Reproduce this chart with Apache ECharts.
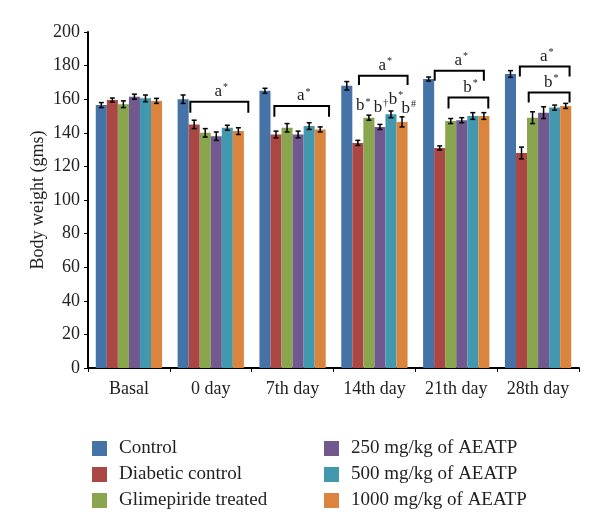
<!DOCTYPE html>
<html>
<head>
<meta charset="utf-8">
<script src="https://cdn.jsdelivr.net/npm/echarts@6/dist/echarts.min.js"></script>
<style>
  html, body { margin: 0; padding: 0; background: #fff; }
  #chart { width: 600px; height: 531px; }
</style>
</head>
<body>
<div id="chart"></div>
<script>
// categories and groups
const days = ['Basal', '0 day', '7th day', '14th day', '21th day', '28th day']
const groups = ['Control', 'Diabetic control', 'Glimepiride treated',
  '250 mg/kg of AEATP', '500 mg/kg of AEATP', '1000 mg/kg of AEATP']
const colors = ['#4572A7', '#AA4643', '#89A54E', '#71588F', '#4198AF', '#DB843D']

// mean body weight (gms), one array per group
const control = [156.5, 160, 165, 168, 172, 175]
const diabetic = [159.5, 145, 139, 134, 131, 128]
const glimepiride = [157, 140, 143, 149, 147, 149]
const aeatp250 = [161.5, 138, 139, 143.5, 147.5, 152]
const aeatp500 = [160.5, 143, 144, 151, 150, 155]
const aeatp1000 = [159, 141, 142, 146.5, 150, 156]

// standard errors, one array per group
const errControl = [1.5, 2.5, 1.5, 2.5, 1.2, 2]
const errDiabetic = [1.2, 2.5, 2, 1.5, 1.2, 3.5]
const errGlimepiride = [2, 2.5, 2.5, 1.5, 1.5, 3.5]
const errAeatp250 = [1.5, 2.5, 2, 1.5, 1.5, 3.5]
const errAeatp500 = [2, 1.5, 2, 2, 2, 1.5]
const errAeatp1000 = [1.5, 2, 1.5, 3, 2, 1.5]

// significance brackets: [day, from slot, to slot, top value, bottom value, letter]
const brackets = [
  [1, 1.15, 6.4, 158.5, 152, 'a'],
  [2, 1.35, 6.3, 156, 149.5, 'a'],
  [3, 1.6, 6.0, 174, 168.5, 'a'],
  [4, 1.05, 5.5, 177, 171, 'a'],
  [4, 2.3, 5.9, 161, 154.5, 'b'],
  [5, 1.35, 5.85, 179.5, 173.5, 'a'],
  [5, 2.15, 5.85, 164, 158, 'b']
]
// marks over single bars: [day, slot, value, letter, symbol]
const marks = [
  [3, 2.0, 156, 'b', '*'],
  [3, 3.6, 155, 'b', '†'],
  [3, 4.95, 160, 'b', '*'],
  [3, 6.1, 154.5, 'b', '#']
]

const means = [control, diabetic, glimepiride, aeatp250, aeatp500, aeatp1000]
const errs = [errControl, errDiabetic, errGlimepiride, errAeatp250, errAeatp500, errAeatp1000]

const FONT = 'Liberation Serif'
const CAT_GAP = 0.19

function groupGeom(api, cat) {
  const center = api.coord([cat, 0])[0]
  const band = api.size([1, 0])[0]
  const groupW = band * (1 - CAT_GAP)
  return { left: center - groupW / 2, barW: groupW / groups.length }
}

const rich = {
  m: { fontFamily: FONT, fontSize: 17, fill: '#222' },
  s: { fontFamily: FONT, fontSize: 10, fill: '#222', verticalAlign: 'top', padding: [0, 0, 8, 1] }
}

const errData = []
means.forEach((arr, g) => {
  arr.forEach((v, d) => {
    errData.push([d, g, v - errs[g][d], v + errs[g][d]])
  })
})

const chart = echarts.init(document.getElementById('chart'))

const barSeries = groups.map((name, i) => ({
  name: name,
  type: 'bar',
  data: means[i],
  barGap: '0%',
  barCategoryGap: (CAT_GAP * 100) + '%',
  itemStyle: { color: colors[i] }
}))

const legendBase = {
  orient: 'vertical',
  top: 434,
  itemWidth: 15, itemHeight: 15, itemGap: 7,
  icon: 'rect',
  textStyle: { fontFamily: FONT, fontSize: 19, color: '#222', padding: [0, 0, 0, 7] }
}

chart.setOption({
  animation: false,
  textStyle: { fontFamily: FONT },
  grid: { left: 88, right: 21, top: 32, bottom: 163 },
  legend: [
    Object.assign({}, legendBase, { data: groups.slice(0, 3), left: 87 }),
    Object.assign({}, legendBase, { data: groups.slice(3), left: 319 })
  ],
  xAxis: {
    type: 'category',
    data: days,
    axisLine: { lineStyle: { color: '#000', width: 2 } },
    axisTick: { show: true, length: 4, lineStyle: { color: '#000' } },
    axisLabel: { fontFamily: FONT, fontSize: 18, color: '#222', margin: 12 }
  },
  yAxis: {
    type: 'value',
    min: 0, max: 200, interval: 20,
    name: 'Body weight (gms)',
    nameLocation: 'middle',
    nameGap: 41,
    nameMoveOverlap: false,
    nameTextStyle: { fontFamily: FONT, fontSize: 18, color: '#222' },
    splitLine: { show: false },
    axisLine: { show: true, lineStyle: { color: '#000', width: 2 } },
    axisTick: { show: true, length: 4, lineStyle: { color: '#000' } },
    axisLabel: { fontFamily: FONT, fontSize: 18, color: '#222', margin: 8 }
  },
  series: barSeries.concat([
    {
      type: 'custom',
      name: 'errors',
      z: 5,
      data: errData,
      encode: { x: 0, y: [2, 3] },
      renderItem(params, api) {
        const cat = api.value(0)
        const g = api.value(1)
        const geo = groupGeom(api, cat)
        const x = geo.left + (g + 0.5) * geo.barW
        const lo = api.coord([cat, api.value(2)])[1]
        const hi = api.coord([cat, api.value(3)])[1]
        const c = 2.5
        const st = { stroke: '#000', lineWidth: 1.5 }
        return {
          type: 'group',
          children: [
            { type: 'line', shape: { x1: x, y1: lo, x2: x, y2: hi }, style: st },
            { type: 'line', shape: { x1: x - c, y1: lo, x2: x + c, y2: lo }, style: st },
            { type: 'line', shape: { x1: x - c, y1: hi, x2: x + c, y2: hi }, style: st }
          ]
        }
      }
    },
    {
      type: 'custom',
      name: 'brackets',
      z: 6,
      data: brackets,
      encode: { x: 0, y: [3, 4] },
      renderItem(params, api) {
        const cat = api.value(0)
        const geo = groupGeom(api, cat)
        const x1 = geo.left + api.value(1) * geo.barW
        const x2 = geo.left + api.value(2) * geo.barW
        const yt = api.coord([cat, api.value(3)])[1]
        const yb = api.coord([cat, api.value(4)])[1]
        const letter = brackets[params.dataIndex][5]
        return {
          type: 'group',
          children: [
            {
              type: 'polyline',
              shape: { points: [[x1, yb], [x1, yt], [x2, yt], [x2, yb]] },
              style: { stroke: '#000', lineWidth: 2, fill: null }
            },
            {
              type: 'text',
              x: (x1 + x2) / 2 + 2, y: yt - 10,
              style: {
                text: '{m|' + letter + '}{s|*}',
                align: 'center', verticalAlign: 'middle',
                rich: rich
              }
            }
          ]
        }
      }
    },
    {
      type: 'custom',
      name: 'marks',
      z: 6,
      data: marks,
      encode: { x: 0, y: 2 },
      renderItem(params, api) {
        const cat = api.value(0)
        const geo = groupGeom(api, cat)
        const x = geo.left + api.value(1) * geo.barW
        const y = api.coord([cat, api.value(2)])[1]
        const m = marks[params.dataIndex]
        return {
          type: 'text',
          x: x, y: y,
          style: {
            text: '{m|' + m[3] + '}{s|' + m[4] + '}',
            align: 'center', verticalAlign: 'middle',
            rich: rich
          }
        }
      }
    }
  ])
})
</script>
</body>
</html>
